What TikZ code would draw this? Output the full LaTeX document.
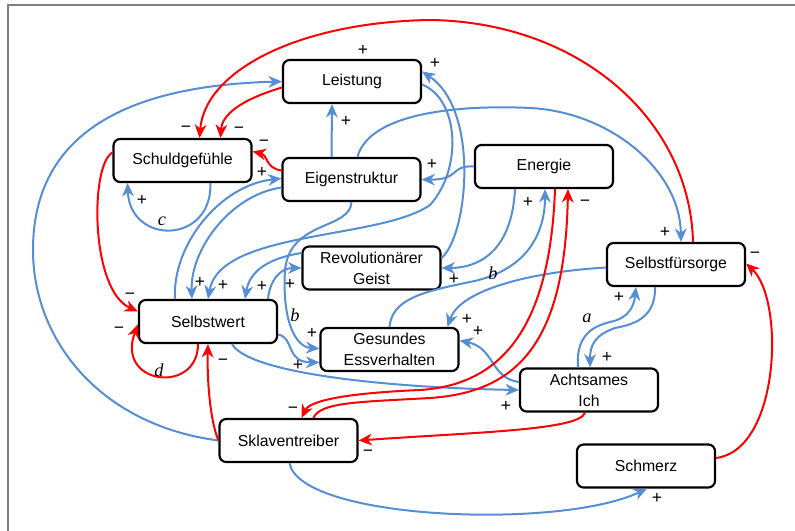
\documentclass[tikz,border=0pt]{standalone}
\usepackage{fontspec}
\setmainfont{Liberation Sans}
\newfontfamily\varfont{Liberation Serif}
\usetikzlibrary{arrows.meta}

\definecolor{linkblue}{RGB}{85,142,213}
\definecolor{linkred}{RGB}{255,0,0}
\definecolor{framegray}{RGB}{128,128,128}

\tikzset{
	factor/.style={draw, line width=1.3pt, rounded corners=4pt, fill=white,
		minimum width=82.8pt, minimum height=25.8pt, inner sep=1pt, align=center,
		font=\fontsize{9.5}{12.6}\selectfont},
	poslink/.style={draw=linkblue, line width=1.2pt,
		-{Stealth[length=8pt,width=7pt,inset=2.5pt]}},
	neglink/.style={draw=linkred, line width=1.2pt,
		-{Stealth[length=8pt,width=7pt,inset=2.5pt]}},
	signlbl/.style={inner sep=0pt, font=\fontsize{10.5}{11}\selectfont},
	looplbl/.style={inner sep=0pt, font=\varfont\itshape\fontsize{11}{12}\selectfont}
}

\begin{document}
\begin{tikzpicture}[x=0.6pt, y=-0.6pt]
		
		\useasboundingbox (0,0) rectangle (795,531);
		\draw[framegray, line width=1.2pt] (8,531) -- (8,5) -- (795,5);
		
		\node[factor] (leist) at (352,81.5) {Leistung};
		\node[factor] (schuld) at (182.5,160.5) {Schuldgefühle};
		\node[factor] (eigen) at (351.5,179.5) {Eigenstruktur};
		\node[factor] (energ) at (544,166.5) {Energie};
		\node[factor] (sorge) at (676,264.5) {Selbstfürsorge};
		\node[factor] (rev) at (371.5,268) {Revolutionärer\\Geist};
		\node[factor] (wert) at (208,321.5) {Selbstwert};
		\node[factor] (ess) at (389.5,349.5) {Gesundes\\Essverhalten};
		\node[factor] (acht) at (589,390) {Achtsames\\Ich};
		\node[factor] (sklav) at (288.5,440.5) {Sklaventreiber};
		\node[factor] (schm) at (646,466) {Schmerz};
		
		% positive links
		\draw[poslink] (sklav.west) .. controls (100,425) and (33,340) .. (33,250)
			.. controls (33,120) and (150,85) .. (leist.west);
		\draw[poslink] ([shift={(-20,0)}]eigen.north) -- ([shift={(-20,0)}]leist.south);
		\draw[poslink] ([shift={(0,-10)}]rev.east) .. controls (468,235) and (480,110) .. ([shift={(0,-10)}]leist.east);
		\draw[poslink] ([shift={(0,3)}]leist.east) .. controls (460,100) and (462,170) .. (430,205)
			.. controls (380,240) and (220,230) .. (wert.north);
		\draw[poslink] (energ.west) .. controls (450,165) and (460,180) .. (eigen.east);
		\draw[poslink] ([shift={(6,0)}]eigen.north) .. controls (370,110) and (470,105) .. (530,108)
			.. controls (610,112) and (680,170) .. ([shift={(5,0)}]sorge.north);
		\draw[poslink] ([shift={(-33,0)}]wert.north) .. controls (172,245) and (220,185) .. ([shift={(0,-1)}]eigen.west);
		\draw[poslink] ([shift={(0,8)}]eigen.west) .. controls (230,195) and (190,250) .. ([shift={(-16,0)}]wert.north);
		\draw[poslink] ([shift={(0,-15)}]rev.west) .. controls (270,258) and (250,270) .. ([shift={(37,0)}]wert.north);
		\draw[poslink] ([shift={(60,0)}]wert.north) .. controls (270,280) and (280,268) .. (rev.west);
		\draw[poslink] (eigen.south) .. controls (350,230) and (290,220) .. (285,270)
			.. controls (282,320) and (295,347) .. ([shift={(0,-1)}]ess.west);
		\draw[poslink] ([shift={(0,13)}]wert.east) .. controls (295,338) and (285,362) .. ([shift={(0,13)}]ess.west);
		\draw[poslink] ([shift={(24,0)}]wert.south) .. controls (250,375) and (400,388) .. (acht.west);
		\draw[poslink] ([shift={(-29,0)}]energ.south) .. controls (512,250) and (480,268) .. (rev.east);
		\draw[poslink] (ess.north) .. controls (392,300) and (420,292) .. (470,282)
			.. controls (530,270) and (545,230) .. ([shift={(1,0)}]energ.south);
		\draw[poslink] ([shift={(0,3)}]sorge.west) .. controls (530,272) and (460,290) .. ([shift={(58,0)}]ess.north);
		\draw[poslink] ([shift={(0,-8)}]acht.west) .. controls (490,378) and (495,348) .. ([shift={(0,-9)}]ess.east);
		\draw[poslink] ([shift={(-11,0)}]acht.north) .. controls (575,330) and (600,325) .. (610,322)
			.. controls (630,318) and (634,305) .. ([shift={(-40,0)}]sorge.south);
		\draw[poslink] ([shift={(-21,0)}]sorge.south) .. controls (656,320) and (630,325) .. (615,328)
			.. controls (595,335) and (590,345) .. ([shift={(1,0)}]acht.north);
		\draw[poslink] ([shift={(1,0)}]sklav.south) .. controls (300,520) and (560,530) .. ([shift={(1,0)}]schm.south);
		\draw[poslink] ([shift={(28,0)}]schuld.south) .. controls (212,245) and (130,245) .. ([shift={(-55,0)}]schuld.south);
		
		% negative links
		\draw[neglink] ([shift={(17,0)}]sorge.north) .. controls (690,120) and (580,22) .. (430,20)
			.. controls (300,22) and (205,70) .. ([shift={(17,0)}]schuld.north);
		\draw[neglink] ([shift={(0,6)}]leist.west) .. controls (240,100) and (222,115) .. ([shift={(38,0)}]schuld.north);
		\draw[neglink] ([shift={(0,-9)}]eigen.west) .. controls (265,168) and (268,155) .. ([shift={(0,-9)}]schuld.east);
		\draw[neglink] ([shift={(0,-8)}]schuld.west) .. controls (90,165) and (90,290) .. ([shift={(0,-10)}]wert.west);
		\draw[neglink] ([shift={(-10,0)}]wert.south) .. controls (198,395) and (115,385) .. ([shift={(0,3)}]wert.west);
		\draw[neglink] (sklav.west) .. controls (210,420) and (207,380) .. (wert.south);
		\draw[neglink] ([shift={(11,0)}]energ.south) .. controls (550,330) and (500,385) .. (420,390)
			.. controls (350,393) and (310,400) .. ([shift={(13,0)}]sklav.north);
		\draw[neglink] ([shift={(25,0)}]sklav.north) .. controls (320,402) and (360,402) .. (430,398)
			.. controls (520,392) and (565,340) .. ([shift={(24,0)}]energ.south);
		\draw[neglink] ([shift={(-4,0)}]acht.south) .. controls (580,430) and (480,432) .. (sklav.east);
		\draw[neglink] ([shift={(0,-8)}]schm.east) .. controls (780,450) and (785,300) .. ([shift={(0,-1)}]sorge.east);
		
		\foreach \x/\y/\s [count=\i] in {363/50/+, 186/129/−, 239/130/−, 264/143/−, 262/172/+,
			346/121/+, 435/63/+, 432/164/+, 142/200/+, 130/296/−, 119/330/−, 223/362/−,
			200/282/+, 223/285/+, 262/286/+, 290/284/+, 312/333/+, 298/365/+, 454/279/+,
			528/202/+, 585/203/−, 293/410/−, 665/232/+, 755/255/−, 467/319/+, 478/331/+,
			619/297/+, 607/357/+, 506/406/+, 368/453/−, 657/498/+}
		{
			\node[signlbl] (s\i) at (\x,\y) {\s};
		}
		\node[looplbl] (la) at (587,318) {a};
		\node[looplbl] (lb1) at (295,315) {b};
		\node[looplbl] (lb2) at (493,273) {b};
		\node[looplbl] (lc) at (162,221) {c};
		\node[looplbl] (ld) at (159,370) {d};
		
\end{tikzpicture}
\end{document}
